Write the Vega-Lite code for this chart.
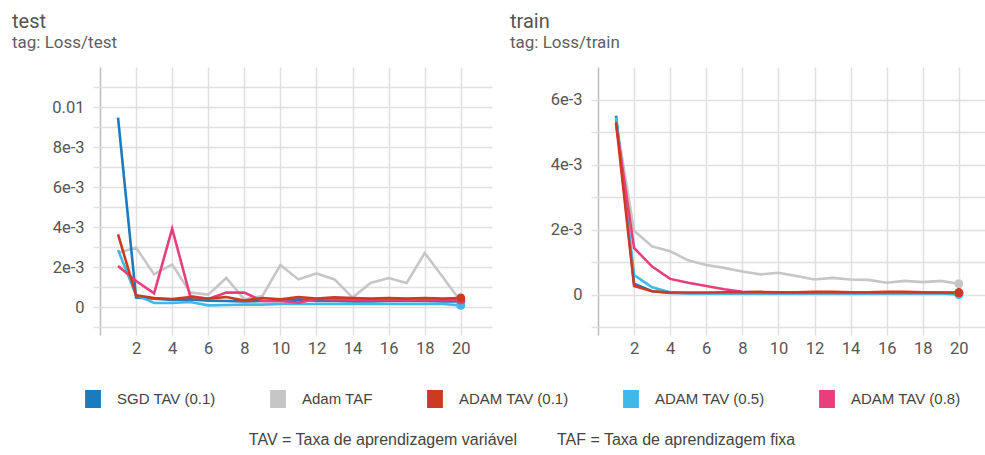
{
  "$schema": "https://vega.github.io/schema/vega-lite/v6.json",
  "padding": {"left": 12, "top": 12, "right": 0, "bottom": 0},
  "background": "white",
  "config": {
    "view": {"stroke": null},
    "font": "Roboto",
    "axis": {
      "title": null,
      "domain": false,
      "grid": true,
      "gridColor": "#e0e0e0",
      "gridWidth": 1.5,
      "tickColor": "#e0e0e0",
      "tickWidth": 1.5,
      "labelFont": "Roboto",
      "labelFontSize": 16.5,
      "labelColor": "#555555",
      "labelOverlap": false
    },
    "title": {
      "anchor": "start",
      "frame": "group",
      "dx": -88,
      "fontSize": 20,
      "fontWeight": "normal",
      "color": "#555555",
      "subtitleFontSize": 17,
      "subtitleColor": "#5f5f5f",
      "subtitlePadding": 3,
      "offset": 16
    }
  },
  "datasets": {
    "loss": [
      {"split": "test", "run": "Adam TAF", "step": 1, "loss": 0.0027},
      {"split": "test", "run": "Adam TAF", "step": 2, "loss": 0.00297},
      {"split": "test", "run": "Adam TAF", "step": 3, "loss": 0.00163},
      {"split": "test", "run": "Adam TAF", "step": 4, "loss": 0.00213},
      {"split": "test", "run": "Adam TAF", "step": 5, "loss": 0.00072},
      {"split": "test", "run": "Adam TAF", "step": 6, "loss": 0.00062},
      {"split": "test", "run": "Adam TAF", "step": 7, "loss": 0.00145},
      {"split": "test", "run": "Adam TAF", "step": 8, "loss": 0.00038},
      {"split": "test", "run": "Adam TAF", "step": 9, "loss": 0.00055},
      {"split": "test", "run": "Adam TAF", "step": 10, "loss": 0.0021},
      {"split": "test", "run": "Adam TAF", "step": 11, "loss": 0.00138},
      {"split": "test", "run": "Adam TAF", "step": 12, "loss": 0.00168},
      {"split": "test", "run": "Adam TAF", "step": 13, "loss": 0.00138},
      {"split": "test", "run": "Adam TAF", "step": 14, "loss": 0.00048},
      {"split": "test", "run": "Adam TAF", "step": 15, "loss": 0.0012},
      {"split": "test", "run": "Adam TAF", "step": 16, "loss": 0.00145},
      {"split": "test", "run": "Adam TAF", "step": 17, "loss": 0.0012},
      {"split": "test", "run": "Adam TAF", "step": 18, "loss": 0.0027},
      {"split": "test", "run": "Adam TAF", "step": 19, "loss": 0.0015},
      {"split": "test", "run": "Adam TAF", "step": 20, "loss": 0.00028},
      {"split": "test", "run": "SGD TAV (0.1)", "step": 1, "loss": 0.00947},
      {"split": "test", "run": "SGD TAV (0.1)", "step": 2, "loss": 0.00047},
      {"split": "test", "run": "SGD TAV (0.1)", "step": 3, "loss": 0.00042},
      {"split": "test", "run": "SGD TAV (0.1)", "step": 4, "loss": 0.00035},
      {"split": "test", "run": "SGD TAV (0.1)", "step": 5, "loss": 0.00038},
      {"split": "test", "run": "SGD TAV (0.1)", "step": 6, "loss": 0.00032},
      {"split": "test", "run": "SGD TAV (0.1)", "step": 7, "loss": 0.0003},
      {"split": "test", "run": "SGD TAV (0.1)", "step": 8, "loss": 0.00028},
      {"split": "test", "run": "SGD TAV (0.1)", "step": 9, "loss": 0.0003},
      {"split": "test", "run": "SGD TAV (0.1)", "step": 10, "loss": 0.0003},
      {"split": "test", "run": "SGD TAV (0.1)", "step": 11, "loss": 0.00038},
      {"split": "test", "run": "SGD TAV (0.1)", "step": 12, "loss": 0.0003},
      {"split": "test", "run": "SGD TAV (0.1)", "step": 13, "loss": 0.0003},
      {"split": "test", "run": "SGD TAV (0.1)", "step": 14, "loss": 0.00028},
      {"split": "test", "run": "SGD TAV (0.1)", "step": 15, "loss": 0.00028},
      {"split": "test", "run": "SGD TAV (0.1)", "step": 16, "loss": 0.0003},
      {"split": "test", "run": "SGD TAV (0.1)", "step": 17, "loss": 0.0003},
      {"split": "test", "run": "SGD TAV (0.1)", "step": 18, "loss": 0.0003},
      {"split": "test", "run": "SGD TAV (0.1)", "step": 19, "loss": 0.00028},
      {"split": "test", "run": "SGD TAV (0.1)", "step": 20, "loss": 0.00028},
      {"split": "test", "run": "ADAM TAV (0.5)", "step": 1, "loss": 0.00285},
      {"split": "test", "run": "ADAM TAV (0.5)", "step": 2, "loss": 0.0006},
      {"split": "test", "run": "ADAM TAV (0.5)", "step": 3, "loss": 0.0002},
      {"split": "test", "run": "ADAM TAV (0.5)", "step": 4, "loss": 0.0002},
      {"split": "test", "run": "ADAM TAV (0.5)", "step": 5, "loss": 0.00025},
      {"split": "test", "run": "ADAM TAV (0.5)", "step": 6, "loss": 0.00008},
      {"split": "test", "run": "ADAM TAV (0.5)", "step": 7, "loss": 0.0001},
      {"split": "test", "run": "ADAM TAV (0.5)", "step": 8, "loss": 0.00012},
      {"split": "test", "run": "ADAM TAV (0.5)", "step": 9, "loss": 0.00012},
      {"split": "test", "run": "ADAM TAV (0.5)", "step": 10, "loss": 0.00015},
      {"split": "test", "run": "ADAM TAV (0.5)", "step": 11, "loss": 0.00015},
      {"split": "test", "run": "ADAM TAV (0.5)", "step": 12, "loss": 0.00015},
      {"split": "test", "run": "ADAM TAV (0.5)", "step": 13, "loss": 0.00015},
      {"split": "test", "run": "ADAM TAV (0.5)", "step": 14, "loss": 0.00015},
      {"split": "test", "run": "ADAM TAV (0.5)", "step": 15, "loss": 0.00015},
      {"split": "test", "run": "ADAM TAV (0.5)", "step": 16, "loss": 0.00015},
      {"split": "test", "run": "ADAM TAV (0.5)", "step": 17, "loss": 0.00015},
      {"split": "test", "run": "ADAM TAV (0.5)", "step": 18, "loss": 0.00015},
      {"split": "test", "run": "ADAM TAV (0.5)", "step": 19, "loss": 0.00015},
      {"split": "test", "run": "ADAM TAV (0.5)", "step": 20, "loss": 0.00008},
      {"split": "test", "run": "ADAM TAV (0.8)", "step": 1, "loss": 0.00205},
      {"split": "test", "run": "ADAM TAV (0.8)", "step": 2, "loss": 0.0013},
      {"split": "test", "run": "ADAM TAV (0.8)", "step": 3, "loss": 0.00068},
      {"split": "test", "run": "ADAM TAV (0.8)", "step": 4, "loss": 0.00392},
      {"split": "test", "run": "ADAM TAV (0.8)", "step": 5, "loss": 0.00055},
      {"split": "test", "run": "ADAM TAV (0.8)", "step": 6, "loss": 0.0004},
      {"split": "test", "run": "ADAM TAV (0.8)", "step": 7, "loss": 0.00072},
      {"split": "test", "run": "ADAM TAV (0.8)", "step": 8, "loss": 0.00072},
      {"split": "test", "run": "ADAM TAV (0.8)", "step": 9, "loss": 0.0003},
      {"split": "test", "run": "ADAM TAV (0.8)", "step": 10, "loss": 0.0003},
      {"split": "test", "run": "ADAM TAV (0.8)", "step": 11, "loss": 0.00022},
      {"split": "test", "run": "ADAM TAV (0.8)", "step": 12, "loss": 0.0004},
      {"split": "test", "run": "ADAM TAV (0.8)", "step": 13, "loss": 0.00038},
      {"split": "test", "run": "ADAM TAV (0.8)", "step": 14, "loss": 0.00035},
      {"split": "test", "run": "ADAM TAV (0.8)", "step": 15, "loss": 0.00035},
      {"split": "test", "run": "ADAM TAV (0.8)", "step": 16, "loss": 0.00038},
      {"split": "test", "run": "ADAM TAV (0.8)", "step": 17, "loss": 0.00035},
      {"split": "test", "run": "ADAM TAV (0.8)", "step": 18, "loss": 0.00038},
      {"split": "test", "run": "ADAM TAV (0.8)", "step": 19, "loss": 0.00035},
      {"split": "test", "run": "ADAM TAV (0.8)", "step": 20, "loss": 0.00035},
      {"split": "test", "run": "ADAM TAV (0.1)", "step": 1, "loss": 0.00363},
      {"split": "test", "run": "ADAM TAV (0.1)", "step": 2, "loss": 0.00058},
      {"split": "test", "run": "ADAM TAV (0.1)", "step": 3, "loss": 0.00045},
      {"split": "test", "run": "ADAM TAV (0.1)", "step": 4, "loss": 0.0004},
      {"split": "test", "run": "ADAM TAV (0.1)", "step": 5, "loss": 0.0005},
      {"split": "test", "run": "ADAM TAV (0.1)", "step": 6, "loss": 0.00042},
      {"split": "test", "run": "ADAM TAV (0.1)", "step": 7, "loss": 0.0005},
      {"split": "test", "run": "ADAM TAV (0.1)", "step": 8, "loss": 0.00032},
      {"split": "test", "run": "ADAM TAV (0.1)", "step": 9, "loss": 0.00045},
      {"split": "test", "run": "ADAM TAV (0.1)", "step": 10, "loss": 0.00038},
      {"split": "test", "run": "ADAM TAV (0.1)", "step": 11, "loss": 0.0005},
      {"split": "test", "run": "ADAM TAV (0.1)", "step": 12, "loss": 0.00042},
      {"split": "test", "run": "ADAM TAV (0.1)", "step": 13, "loss": 0.00048},
      {"split": "test", "run": "ADAM TAV (0.1)", "step": 14, "loss": 0.00045},
      {"split": "test", "run": "ADAM TAV (0.1)", "step": 15, "loss": 0.00042},
      {"split": "test", "run": "ADAM TAV (0.1)", "step": 16, "loss": 0.00045},
      {"split": "test", "run": "ADAM TAV (0.1)", "step": 17, "loss": 0.00042},
      {"split": "test", "run": "ADAM TAV (0.1)", "step": 18, "loss": 0.00045},
      {"split": "test", "run": "ADAM TAV (0.1)", "step": 19, "loss": 0.00042},
      {"split": "test", "run": "ADAM TAV (0.1)", "step": 20, "loss": 0.00045},
      {"split": "train", "run": "Adam TAF", "step": 1, "loss": 0.00535},
      {"split": "train", "run": "Adam TAF", "step": 2, "loss": 0.00196},
      {"split": "train", "run": "Adam TAF", "step": 3, "loss": 0.00148},
      {"split": "train", "run": "Adam TAF", "step": 4, "loss": 0.00133},
      {"split": "train", "run": "Adam TAF", "step": 5, "loss": 0.00105},
      {"split": "train", "run": "Adam TAF", "step": 6, "loss": 0.00091},
      {"split": "train", "run": "Adam TAF", "step": 7, "loss": 0.00082},
      {"split": "train", "run": "Adam TAF", "step": 8, "loss": 0.00071},
      {"split": "train", "run": "Adam TAF", "step": 9, "loss": 0.00062},
      {"split": "train", "run": "Adam TAF", "step": 10, "loss": 0.00067},
      {"split": "train", "run": "Adam TAF", "step": 11, "loss": 0.00057},
      {"split": "train", "run": "Adam TAF", "step": 12, "loss": 0.00046},
      {"split": "train", "run": "Adam TAF", "step": 13, "loss": 0.00051},
      {"split": "train", "run": "Adam TAF", "step": 14, "loss": 0.00046},
      {"split": "train", "run": "Adam TAF", "step": 15, "loss": 0.00045},
      {"split": "train", "run": "Adam TAF", "step": 16, "loss": 0.00036},
      {"split": "train", "run": "Adam TAF", "step": 17, "loss": 0.00042},
      {"split": "train", "run": "Adam TAF", "step": 18, "loss": 0.00038},
      {"split": "train", "run": "Adam TAF", "step": 19, "loss": 0.00042},
      {"split": "train", "run": "Adam TAF", "step": 20, "loss": 0.00033},
      {"split": "train", "run": "SGD TAV (0.1)", "step": 1, "loss": 0.0055},
      {"split": "train", "run": "SGD TAV (0.1)", "step": 2, "loss": 0.00033},
      {"split": "train", "run": "SGD TAV (0.1)", "step": 3, "loss": 0.0001},
      {"split": "train", "run": "SGD TAV (0.1)", "step": 4, "loss": 0.00005},
      {"split": "train", "run": "SGD TAV (0.1)", "step": 5, "loss": 0.00004},
      {"split": "train", "run": "SGD TAV (0.1)", "step": 6, "loss": 0.00004},
      {"split": "train", "run": "SGD TAV (0.1)", "step": 7, "loss": 0.00004},
      {"split": "train", "run": "SGD TAV (0.1)", "step": 8, "loss": 0.00004},
      {"split": "train", "run": "SGD TAV (0.1)", "step": 9, "loss": 0.00004},
      {"split": "train", "run": "SGD TAV (0.1)", "step": 10, "loss": 0.00004},
      {"split": "train", "run": "SGD TAV (0.1)", "step": 11, "loss": 0.00004},
      {"split": "train", "run": "SGD TAV (0.1)", "step": 12, "loss": 0.00004},
      {"split": "train", "run": "SGD TAV (0.1)", "step": 13, "loss": 0.00004},
      {"split": "train", "run": "SGD TAV (0.1)", "step": 14, "loss": 0.00004},
      {"split": "train", "run": "SGD TAV (0.1)", "step": 15, "loss": 0.00004},
      {"split": "train", "run": "SGD TAV (0.1)", "step": 16, "loss": 0.00004},
      {"split": "train", "run": "SGD TAV (0.1)", "step": 17, "loss": 0.00004},
      {"split": "train", "run": "SGD TAV (0.1)", "step": 18, "loss": 0.00004},
      {"split": "train", "run": "SGD TAV (0.1)", "step": 19, "loss": 0.00004},
      {"split": "train", "run": "SGD TAV (0.1)", "step": 20, "loss": 0.00003},
      {"split": "train", "run": "ADAM TAV (0.5)", "step": 1, "loss": 0.00545},
      {"split": "train", "run": "ADAM TAV (0.5)", "step": 2, "loss": 0.0006},
      {"split": "train", "run": "ADAM TAV (0.5)", "step": 3, "loss": 0.00022},
      {"split": "train", "run": "ADAM TAV (0.5)", "step": 4, "loss": 0.00007},
      {"split": "train", "run": "ADAM TAV (0.5)", "step": 5, "loss": 0.00004},
      {"split": "train", "run": "ADAM TAV (0.5)", "step": 6, "loss": 0.00003},
      {"split": "train", "run": "ADAM TAV (0.5)", "step": 7, "loss": 0.00003},
      {"split": "train", "run": "ADAM TAV (0.5)", "step": 8, "loss": 0.00003},
      {"split": "train", "run": "ADAM TAV (0.5)", "step": 9, "loss": 0.00003},
      {"split": "train", "run": "ADAM TAV (0.5)", "step": 10, "loss": 0.00003},
      {"split": "train", "run": "ADAM TAV (0.5)", "step": 11, "loss": 0.00003},
      {"split": "train", "run": "ADAM TAV (0.5)", "step": 12, "loss": 0.00003},
      {"split": "train", "run": "ADAM TAV (0.5)", "step": 13, "loss": 0.00003},
      {"split": "train", "run": "ADAM TAV (0.5)", "step": 14, "loss": 0.00003},
      {"split": "train", "run": "ADAM TAV (0.5)", "step": 15, "loss": 0.00003},
      {"split": "train", "run": "ADAM TAV (0.5)", "step": 16, "loss": 0.00003},
      {"split": "train", "run": "ADAM TAV (0.5)", "step": 17, "loss": 0.00003},
      {"split": "train", "run": "ADAM TAV (0.5)", "step": 18, "loss": 0.00003},
      {"split": "train", "run": "ADAM TAV (0.5)", "step": 19, "loss": 0.00003},
      {"split": "train", "run": "ADAM TAV (0.5)", "step": 20, "loss": 0.0},
      {"split": "train", "run": "ADAM TAV (0.8)", "step": 1, "loss": 0.00525},
      {"split": "train", "run": "ADAM TAV (0.8)", "step": 2, "loss": 0.00143},
      {"split": "train", "run": "ADAM TAV (0.8)", "step": 3, "loss": 0.00086},
      {"split": "train", "run": "ADAM TAV (0.8)", "step": 4, "loss": 0.00048},
      {"split": "train", "run": "ADAM TAV (0.8)", "step": 5, "loss": 0.00036},
      {"split": "train", "run": "ADAM TAV (0.8)", "step": 6, "loss": 0.00026},
      {"split": "train", "run": "ADAM TAV (0.8)", "step": 7, "loss": 0.00016},
      {"split": "train", "run": "ADAM TAV (0.8)", "step": 8, "loss": 0.00008},
      {"split": "train", "run": "ADAM TAV (0.8)", "step": 9, "loss": 0.00007},
      {"split": "train", "run": "ADAM TAV (0.8)", "step": 10, "loss": 0.00006},
      {"split": "train", "run": "ADAM TAV (0.8)", "step": 11, "loss": 0.00006},
      {"split": "train", "run": "ADAM TAV (0.8)", "step": 12, "loss": 0.00006},
      {"split": "train", "run": "ADAM TAV (0.8)", "step": 13, "loss": 0.00006},
      {"split": "train", "run": "ADAM TAV (0.8)", "step": 14, "loss": 0.00006},
      {"split": "train", "run": "ADAM TAV (0.8)", "step": 15, "loss": 0.00006},
      {"split": "train", "run": "ADAM TAV (0.8)", "step": 16, "loss": 0.00006},
      {"split": "train", "run": "ADAM TAV (0.8)", "step": 17, "loss": 0.00006},
      {"split": "train", "run": "ADAM TAV (0.8)", "step": 18, "loss": 0.00006},
      {"split": "train", "run": "ADAM TAV (0.8)", "step": 19, "loss": 0.00006},
      {"split": "train", "run": "ADAM TAV (0.8)", "step": 20, "loss": 0.00005},
      {"split": "train", "run": "ADAM TAV (0.1)", "step": 1, "loss": 0.0053},
      {"split": "train", "run": "ADAM TAV (0.1)", "step": 2, "loss": 0.00026},
      {"split": "train", "run": "ADAM TAV (0.1)", "step": 3, "loss": 0.0001},
      {"split": "train", "run": "ADAM TAV (0.1)", "step": 4, "loss": 0.00006},
      {"split": "train", "run": "ADAM TAV (0.1)", "step": 5, "loss": 0.00006},
      {"split": "train", "run": "ADAM TAV (0.1)", "step": 6, "loss": 0.00006},
      {"split": "train", "run": "ADAM TAV (0.1)", "step": 7, "loss": 0.00007},
      {"split": "train", "run": "ADAM TAV (0.1)", "step": 8, "loss": 0.00007},
      {"split": "train", "run": "ADAM TAV (0.1)", "step": 9, "loss": 0.00008},
      {"split": "train", "run": "ADAM TAV (0.1)", "step": 10, "loss": 0.00007},
      {"split": "train", "run": "ADAM TAV (0.1)", "step": 11, "loss": 0.00007},
      {"split": "train", "run": "ADAM TAV (0.1)", "step": 12, "loss": 0.00008},
      {"split": "train", "run": "ADAM TAV (0.1)", "step": 13, "loss": 0.00008},
      {"split": "train", "run": "ADAM TAV (0.1)", "step": 14, "loss": 0.00007},
      {"split": "train", "run": "ADAM TAV (0.1)", "step": 15, "loss": 0.00007},
      {"split": "train", "run": "ADAM TAV (0.1)", "step": 16, "loss": 0.00008},
      {"split": "train", "run": "ADAM TAV (0.1)", "step": 17, "loss": 0.00008},
      {"split": "train", "run": "ADAM TAV (0.1)", "step": 18, "loss": 0.00007},
      {"split": "train", "run": "ADAM TAV (0.1)", "step": 19, "loss": 0.00006},
      {"split": "train", "run": "ADAM TAV (0.1)", "step": 20, "loss": 0.00006}
    ],
    "zero": [{"z": 0}]
  },
  "resolve": {"scale": {"color": "shared"}},
  "spacing": 18,
  "hconcat": [
    {
      "title": {"text": "test", "subtitle": "tag: Loss/test"},
      "width": 392,
      "height": 260,
      "layer": [
        {
          "data": {"name": "zero"},
          "mark": {"type": "rule", "color": "#a8a8a8", "strokeWidth": 1.5},
          "encoding": {
            "y": {"field": "z", "type": "quantitative", "scale": {"domain": [-0.001, 0.012], "nice": false, "zero": false}}
          }
        },
        {
          "data": {"name": "loss"},
          "transform": [{"filter": "datum.split === 'test'"}],
          "mark": {"type": "line", "strokeWidth": 2.6, "clip": true},
          "encoding": {
            "x": {"field": "step", "type": "quantitative"},
            "y": {"field": "loss", "type": "quantitative"},
            "color": {"field": "run", "type": "nominal"}
          }
        },
        {
          "data": {"name": "loss"},
          "transform": [{"filter": "datum.split === 'test' && datum.step === 20"}],
          "mark": {"type": "circle", "size": 80, "opacity": 1},
          "encoding": {
            "x": {"field": "step", "type": "quantitative"},
            "y": {"field": "loss", "type": "quantitative"},
            "color": {"field": "run", "type": "nominal"}
          }
        }
      ],
      "encoding": {
        "x": {
          "field": "step",
          "type": "quantitative",
          "scale": {"domain": [0, 21.73], "nice": false, "zero": false},
          "axis": {
            "values": [0, 2, 4, 6, 8, 10, 12, 14, 16, 18, 20],
            "labelExpr": "datum.value === 0 ? '' : datum.label",
            "tickSize": 8,
            "labelPadding": 5,
            "gridColor": {"condition": {"test": "datum.value === 0", "value": "#bdbdbd"}, "value": "#e0e0e0"},
            "tickColor": {"condition": {"test": "datum.value === 0", "value": "#bdbdbd"}, "value": "#e0e0e0"}
          }
        },
        "y": {
          "field": "loss",
          "type": "quantitative",
          "scale": {"domain": [-0.001, 0.012], "nice": false, "zero": false},
          "axis": {
            "values": [-0.001, 0, 0.001, 0.002, 0.003, 0.004, 0.005, 0.006, 0.007, 0.008, 0.009, 0.01, 0.011],
            "labelExpr": "datum.value === 0.01 ? '0.01' : datum.value === 0.008 ? '8e-3' : datum.value === 0.006 ? '6e-3' : datum.value === 0.004 ? '4e-3' : datum.value === 0.002 ? '2e-3' : datum.value === 0 ? '0' : ''",
            "tickSize": 7,
            "labelPadding": 9
          }
        },
        "color": {
          "field": "run",
          "type": "nominal",
          "scale": {
            "domain": ["SGD TAV (0.1)", "Adam TAF", "ADAM TAV (0.1)", "ADAM TAV (0.5)", "ADAM TAV (0.8)"],
            "range": ["#1b7bbf", "#c6c6c6", "#cc3b21", "#3fb8ea", "#e83e7c"]
          },
          "legend": {
            "orient": "none",
            "legendX": -16,
            "legendY": 323,
            "direction": "horizontal",
            "title": "TAV = Taxa de aprendizagem variável\u2003\u2003\u2002TAF = Taxa de aprendizagem fixa",
            "titleOrient": "bottom",
            "titleAnchor": "middle",
            "titleLimit": 900,
            "titleFont": "Liberation Sans",
            "titleFontSize": 16,
            "titleFontWeight": "normal",
            "titleColor": "#444444",
            "titlePadding": 24,
            "labelFont": "Liberation Sans",
            "labelFontSize": 15,
            "labelColor": "#444444",
            "labelOffset": 15,
            "columnPadding": 53,
            "symbolType": "M-0.88,-1H0.88V1H-0.88Z",
            "symbolSize": 324,
            "symbolStrokeWidth": 0,
            "symbolOpacity": 1,
            "encode": {
              "symbols": {"update": {"fill": {"scale": "color", "field": "value"}, "strokeWidth": {"value": 0}}}
            }
          }
        }
      }
    },
    {
      "title": {"text": "train", "subtitle": "tag: Loss/train"},
      "width": 387,
      "height": 260,
      "layer": [
        {
          "data": {"name": "zero"},
          "mark": {"type": "rule", "color": "#a8a8a8", "strokeWidth": 1.5},
          "encoding": {
            "y": {"field": "z", "type": "quantitative", "scale": {"domain": [-0.001, 0.007], "nice": false, "zero": false}}
          }
        },
        {
          "data": {"name": "loss"},
          "transform": [{"filter": "datum.split === 'train'"}],
          "mark": {"type": "line", "strokeWidth": 2.6, "clip": true},
          "encoding": {
            "x": {"field": "step", "type": "quantitative"},
            "y": {"field": "loss", "type": "quantitative"},
            "color": {"field": "run", "type": "nominal"}
          }
        },
        {
          "data": {"name": "loss"},
          "transform": [{"filter": "datum.split === 'train' && datum.step === 20"}],
          "mark": {"type": "circle", "size": 80, "opacity": 1},
          "encoding": {
            "x": {"field": "step", "type": "quantitative"},
            "y": {"field": "loss", "type": "quantitative"},
            "color": {"field": "run", "type": "nominal"}
          }
        }
      ],
      "encoding": {
        "x": {
          "field": "step",
          "type": "quantitative",
          "scale": {"domain": [0, 21.45], "nice": false, "zero": false},
          "axis": {
            "values": [0, 2, 4, 6, 8, 10, 12, 14, 16, 18, 20],
            "labelExpr": "datum.value === 0 ? '' : datum.label",
            "tickSize": 8,
            "labelPadding": 5,
            "gridColor": {"condition": {"test": "datum.value === 0", "value": "#bdbdbd"}, "value": "#e0e0e0"},
            "tickColor": {"condition": {"test": "datum.value === 0", "value": "#bdbdbd"}, "value": "#e0e0e0"}
          }
        },
        "y": {
          "field": "loss",
          "type": "quantitative",
          "scale": {"domain": [-0.001, 0.007], "nice": false, "zero": false},
          "axis": {
            "values": [-0.001, 0, 0.001, 0.002, 0.003, 0.004, 0.005, 0.006],
            "labelExpr": "datum.value === 0.006 ? '6e-3' : datum.value === 0.004 ? '4e-3' : datum.value === 0.002 ? '2e-3' : datum.value === 0 ? '0' : ''",
            "tickSize": 7,
            "labelPadding": 9
          }
        },
        "color": {"field": "run", "type": "nominal"}
      }
    }
  ]
}
